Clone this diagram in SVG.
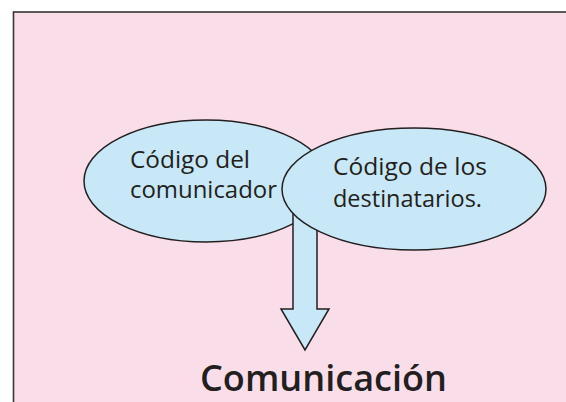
<svg xmlns="http://www.w3.org/2000/svg" width="566" height="402" viewBox="0 0 566 402">
<style>
.bg{fill:#F9DEE9;stroke:#3a3536;stroke-width:1.6}
.el{fill:#C8E7F7;stroke:#231F20;stroke-width:1.5}
.t{font-family:"Open Sans","Noto Sans","DejaVu Sans",sans-serif;fill:#231F20;font-size:24px}
.big{font-family:"Open Sans","Noto Sans","DejaVu Sans",sans-serif;fill:#231F20;font-size:36px;font-weight:600}
</style>
<rect x="0" y="0" width="566" height="402" fill="#ffffff"/>
<rect class="bg" x="13.5" y="12" width="560" height="400"/>
<g id="comunicador">
<ellipse class="el" cx="206" cy="181" rx="122" ry="61"/>
<text class="t" x="130" y="168" textLength="120" lengthAdjust="spacingAndGlyphs">Código del</text>
<text class="t" x="130" y="198" textLength="147" lengthAdjust="spacingAndGlyphs">comunicador</text>
</g>
<g id="connectors">
<path class="el" d="M293,200 L293,309 L281,309 L305,350 L329,309 L317,309 L317,200 Z"/>
</g>
<g id="destinatarios">
<ellipse class="el" cx="414" cy="189" rx="132" ry="61"/>
<text class="t" x="333" y="175" textLength="154" lengthAdjust="spacingAndGlyphs">Código de los</text>
<text class="t" x="333" y="207" textLength="149" lengthAdjust="spacingAndGlyphs">destinatarios.</text>
</g>
<g id="comunicacion">
<text class="big" x="200" y="391" textLength="247" lengthAdjust="spacingAndGlyphs">Comunicación</text>
</g>
</svg>
